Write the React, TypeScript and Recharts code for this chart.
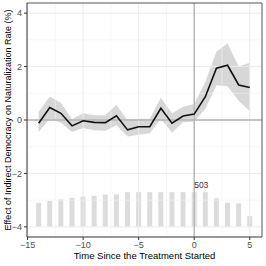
import {
  ComposedChart,
  Area,
  Bar,
  Line,
  XAxis,
  YAxis,
  ReferenceLine,
  LabelList,
} from 'recharts';

// event time relative to treatment start
const years = [-14, -13, -12, -11, -10, -9, -8, -7, -6, -5, -4, -3, -2, -1, 0, 1, 2, 3, 4, 5];
// estimated effect (%)
const estimate = [-0.12, 0.47, 0.25, -0.22, -0.03, -0.09, -0.1, 0.16, -0.37, -0.25, -0.25, 0.44, -0.12, 0.15, 0.22, 0.87, 1.94, 2.05, 1.31, 1.22];
const ciLower = [-0.45, 0.05, -0.1, -0.45, -0.3, -0.38, -0.4, -0.2, -0.62, -0.55, -0.5, 0.05, -0.48, -0.08, -0.06, 0.42, 1.3, 1.26, 0.72, 0.34];
const ciUpper = [0.3, 0.88, 0.65, 0.03, 0.25, 0.18, 0.18, 0.57, -0.02, 0.05, 0.05, 0.83, 0.25, 0.5, 0.6, 1.42, 2.56, 2.86, 2.0, 2.14];
// number of observations per period
const counts = [348, 375, 398, 418, 437, 449, 468, 472, 503, 503, 503, 503, 503, 503, 503, 503, 414, 348, 340, 155];

const xTicks = [-15, -10, -5, 0, 5];
const yTicks = [-4, -2, 0, 2, 4];
const xMinor = [-12.5, -7.5, -2.5, 2.5];
const yMinor = [-3, -1, 1, 3];

const X_DOMAIN = [-15.05, 6.1];
const Y_DOMAIN = [-4.38, 4.38];
const BAR_BASE = -4;
const BAR_SCALE = 1.3 / 503;

const maxCount = Math.max(...counts);

const data = years.map((t, i) => ({
  t,
  est: estimate[i],
  band: [ciLower[i], ciUpper[i]],
  bar: [BAR_BASE, BAR_BASE + counts[i] * BAR_SCALE],
  n: counts[i],
}));

const font = '"Liberation Sans", Arial, sans-serif';
const tickStyle = { fontSize: 9, fill: '#4d4d4d', fontFamily: font };

export default function App() {
  return (
    <div style={{ position: 'absolute', left: 0, top: 0 }}>
      <ComposedChart
        width={266}
        height={266}
        data={data}
        margin={{ top: 3, right: 4, left: 0, bottom: 0 }}
      >
        <XAxis
          dataKey="t"
          type="number"
          domain={X_DOMAIN}
          allowDataOverflow
          ticks={xTicks}
          tickSize={3}
          tickMargin={2}
          height={29}
          stroke="#333"
          tick={tickStyle}
          tickFormatter={(v) => (v < 0 ? `\u2212${Math.abs(v)}` : `${v}`)}
          label={{
            content: () => (
              <text x={144.5} y={259} textAnchor="middle" fontSize={9.5} fontFamily={font} fill="#000">
                Time Since the Treatment Started
              </text>
            ),
          }}
        />
        <YAxis
          type="number"
          domain={Y_DOMAIN}
          allowDataOverflow
          ticks={yTicks}
          tickSize={3}
          tickMargin={2}
          width={27}
          stroke="#333"
          tick={tickStyle}
          tickFormatter={(v) => (v < 0 ? `\u2212${Math.abs(v)}` : `${v}`)}
          label={{
            content: () => (
              <text
                x={8}
                y={120}
                transform="rotate(-90 8 120)"
                textAnchor="middle"
                dominantBaseline="central"
                fontSize={9}
                fontFamily={font}
                fill="#000"
              >
                Effect of Indirect Democracy on Naturalization Rate (%)
              </text>
            ),
          }}
        />

        {/* grid */}
        {xMinor.map((v) => (
          <ReferenceLine key={'xm' + v} x={v} stroke="#f2f2f2" strokeWidth={0.6} />
        ))}
        {yMinor.map((v) => (
          <ReferenceLine key={'ym' + v} y={v} stroke="#f2f2f2" strokeWidth={0.6} />
        ))}
        {xTicks.map((v) => (
          <ReferenceLine key={'xM' + v} x={v} stroke="#ebebeb" strokeWidth={1} />
        ))}
        {yTicks.map((v) => (
          <ReferenceLine key={'yM' + v} y={v} stroke="#ebebeb" strokeWidth={1} />
        ))}
        <ReferenceLine y={0} stroke="#b3b3b3" strokeWidth={1.3} />
        <ReferenceLine x={0} stroke="#b3b3b3" strokeWidth={1.3} />
        <ReferenceLine y={Y_DOMAIN[1]} stroke="#555" strokeWidth={1} />
        <ReferenceLine x={X_DOMAIN[1]} stroke="#555" strokeWidth={1} />

        <Bar dataKey="bar" fill="#dcdcdc" barSize={5} isAnimationActive={false}>
          <LabelList
            dataKey="n"
            content={(p: any) =>
              p.value === maxCount && p.index === years.indexOf(0) ? (
                <text x={p.x + p.width / 2} y={p.y - 4} fontSize={8.5} fontFamily={font} fill="#333">
                  {p.value}
                </text>
              ) : null
            }
          />
        </Bar>
        <Area
          dataKey="band"
          type="linear"
          stroke="none"
          fill="#bdbdbd"
          fillOpacity={0.6}
          isAnimationActive={false}
        />
        <Line
          dataKey="est"
          type="linear"
          stroke="#111"
          strokeWidth={1.6}
          dot={false}
          isAnimationActive={false}
        />
      </ComposedChart>
    </div>
  );
}
